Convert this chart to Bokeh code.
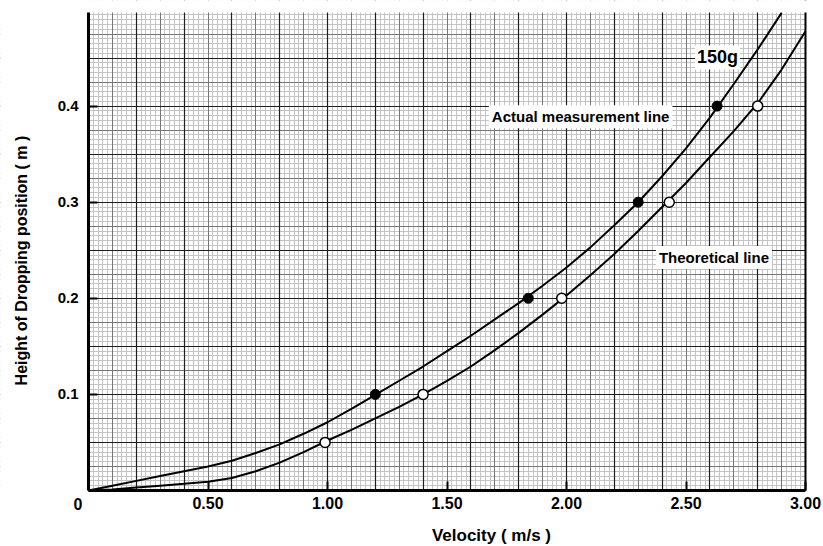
import numpy as np
from bokeh.plotting import figure
from bokeh.models import Range1d, FixedTicker, Grid, Label, LinearAxis, BoxAnnotation
from bokeh.embed import file_html
from bokeh.resources import INLINE

# ---- data ----
# Actual measurement line (150 g)
actual_curve_v = [0.0, 0.1, 0.2, 0.3, 0.4, 0.5, 0.6, 0.7, 0.8, 0.9, 1.0, 1.1, 1.2, 1.3, 1.4,
                  1.5, 1.6, 1.7, 1.8, 1.9, 2.0, 2.1, 2.2, 2.3, 2.4, 2.5, 2.6, 2.7, 2.8, 2.9]
actual_curve_h = [0.0, 0.005, 0.010, 0.015, 0.020, 0.025, 0.031, 0.039, 0.048, 0.059, 0.071,
                  0.085, 0.0995, 0.1142, 0.129, 0.145, 0.161, 0.178, 0.195, 0.213, 0.232,
                  0.253, 0.276, 0.300, 0.327, 0.356, 0.388, 0.423, 0.459, 0.497]
# Theoretical line
theory_curve_v = [0.0, 0.1, 0.2, 0.3, 0.4, 0.5, 0.6, 0.7, 0.8, 0.9, 1.0, 1.1, 1.2, 1.3, 1.4,
                  1.5, 1.6, 1.7, 1.8, 1.9, 2.0, 2.1, 2.2, 2.3, 2.4, 2.5, 2.6, 2.7, 2.8, 2.9, 3.0]
theory_curve_h = [0.0, 0.001, 0.003, 0.005, 0.007, 0.009, 0.013, 0.020, 0.029, 0.040, 0.052,
                  0.063, 0.075, 0.087, 0.100, 0.114, 0.129, 0.146, 0.164, 0.183, 0.203, 0.224,
                  0.246, 0.270, 0.295, 0.320, 0.347, 0.374, 0.403, 0.438, 0.478]
# measured points (filled) and theoretical points (open)
actual_pts_v = [1.20, 1.84, 2.30, 2.63]
actual_pts_h = [0.1, 0.2, 0.3, 0.4]
theory_pts_v = [0.99, 1.40, 1.98, 2.43, 2.80]
theory_pts_h = [0.05, 0.1, 0.2, 0.3, 0.4]

x_ticks = [0.5, 1.0, 1.5, 2.0, 2.5, 3.0]
x_tick_labels = ["0.50", "1.00", "1.50", "2.00", "2.50", "3.00"]
y_ticks = [0.1, 0.2, 0.3, 0.4]
y_tick_labels = ["0.1", "0.2", "0.3", "0.4"]

X_MAX, Y_MAX = 3.0, 0.4975

FONT = "Liberation Sans"

# frame fills the whole canvas; the ranges include the margins around the paper
p = figure(width=823, height=546,
           x_range=Range1d(-0.3682, 3.0753), y_range=Range1d(-0.0583, 0.5099),
           x_axis_location=None, y_axis_location=None,
           output_backend="svg", toolbar_location=None,
           min_border_left=0, min_border_right=0, min_border_top=0, min_border_bottom=0)
p.background_fill_color = "white"
p.border_fill_color = "white"
p.outline_line_color = None
p.xgrid.visible = False
p.ygrid.visible = False

# graph-paper grid
def add_grid(dim, ticks, color, width):
    g = Grid(dimension=dim, ticker=FixedTicker(ticks=list(ticks)),
             grid_line_color=color, grid_line_width=width)
    p.add_layout(g)

add_grid(0, np.round(np.arange(0, 3.0001, 0.02), 4), "#c4c4c4", 1)
add_grid(1, np.round(np.arange(0, 0.4976, 0.005), 4), "#c4c4c4", 1)
add_grid(0, np.round(np.arange(0.1, 3.0001, 0.2), 4), "#777777", 1)
add_grid(1, np.round(np.arange(0.025, 0.4976, 0.05), 4), "#777777", 1)
add_grid(0, np.round(np.arange(0.2, 3.0001, 0.2), 4), "#1e1e1e", 1.2)
add_grid(1, np.round(np.arange(0.05, 0.4976, 0.05), 4), "#1e1e1e", 1.2)

# white margins around the paper (drawn over the grid, under everything else)
for kw in (dict(top=0), dict(right=0), dict(left=X_MAX), dict(bottom=Y_MAX)):
    p.add_layout(BoxAnnotation(fill_color="white", fill_alpha=1.0, line_color=None,
                               level="underlay", **kw))

# right edge of the paper
p.add_layout(Grid(dimension=0, ticker=FixedTicker(ticks=[X_MAX]), grid_line_color="black",
                  grid_line_width=2, bounds=(0, X_MAX)))
# mask the right edge line outside the paper's height
p.add_layout(BoxAnnotation(top=0, left=X_MAX - 0.02, fill_color="white", fill_alpha=1.0,
                           line_color=None, level="underlay"))
p.add_layout(BoxAnnotation(bottom=Y_MAX, left=X_MAX - 0.02, fill_color="white",
                           fill_alpha=1.0, line_color=None, level="underlay"))

# axes fixed at the origin
xaxis = LinearAxis(fixed_location=0, bounds=(0, X_MAX), ticker=FixedTicker(ticks=x_ticks),
                   major_label_overrides=dict(zip(x_ticks, x_tick_labels)))
yaxis = LinearAxis(fixed_location=0, bounds=(0, Y_MAX), ticker=FixedTicker(ticks=y_ticks),
                   major_label_overrides=dict(zip(y_ticks, y_tick_labels)))
for ax in (xaxis, yaxis):
    ax.axis_line_width = 3
    ax.axis_line_color = "black"
    ax.major_tick_in = 9
    ax.major_tick_out = 0
    ax.major_tick_line_width = 2
    ax.major_tick_line_color = "black"
    ax.minor_tick_line_color = None
    ax.major_label_text_font = FONT
    ax.major_label_text_font_style = "bold"
    ax.major_label_text_color = "black"
xaxis.major_label_text_font_size = "16px"
yaxis.major_label_text_font_size = "15px"
xaxis.major_label_standoff = 7
yaxis.major_label_standoff = 10
p.add_layout(xaxis, "below")
p.add_layout(yaxis, "left")

# curves
p.line(actual_curve_v, actual_curve_h, line_color="black", line_width=2)
p.line(theory_curve_v, theory_curve_h, line_color="black", line_width=2)

# points
p.scatter(actual_pts_v, actual_pts_h, size=10, fill_color="black", line_color="black")
p.scatter(theory_pts_v, theory_pts_h, size=10, fill_color="white", line_color="black",
          line_width=1.5)

def add_label(x, y, text, size, bg=None, pad=0, angle=0):
    kw = dict(x=x, y=y, text=text, text_font=FONT, text_font_size=size,
              text_font_style="bold", text_color="black", text_align="center",
              text_baseline="middle", angle=angle)
    if bg:
        kw.update(background_fill_color=bg, padding=pad)
    p.add_layout(Label(**kw))

add_label(2.632, 0.4506, "150g", "18px", bg="white", pad=2)
add_label(2.059, 0.389, "Actual measurement line", "15px", bg="white", pad=3)
add_label(2.617, 0.2425, "Theoretical line", "15px", bg="white", pad=3)
add_label(-0.044, -0.0140, "0", "16px")
add_label(1.686, -0.0468, "Velocity ( m/s )", "17px")
add_label(-0.2824, 0.2393, "Height of Dropping position ( m )", "16px", angle=np.pi / 2)

open("out.html", "w").write(file_html(p, INLINE))
